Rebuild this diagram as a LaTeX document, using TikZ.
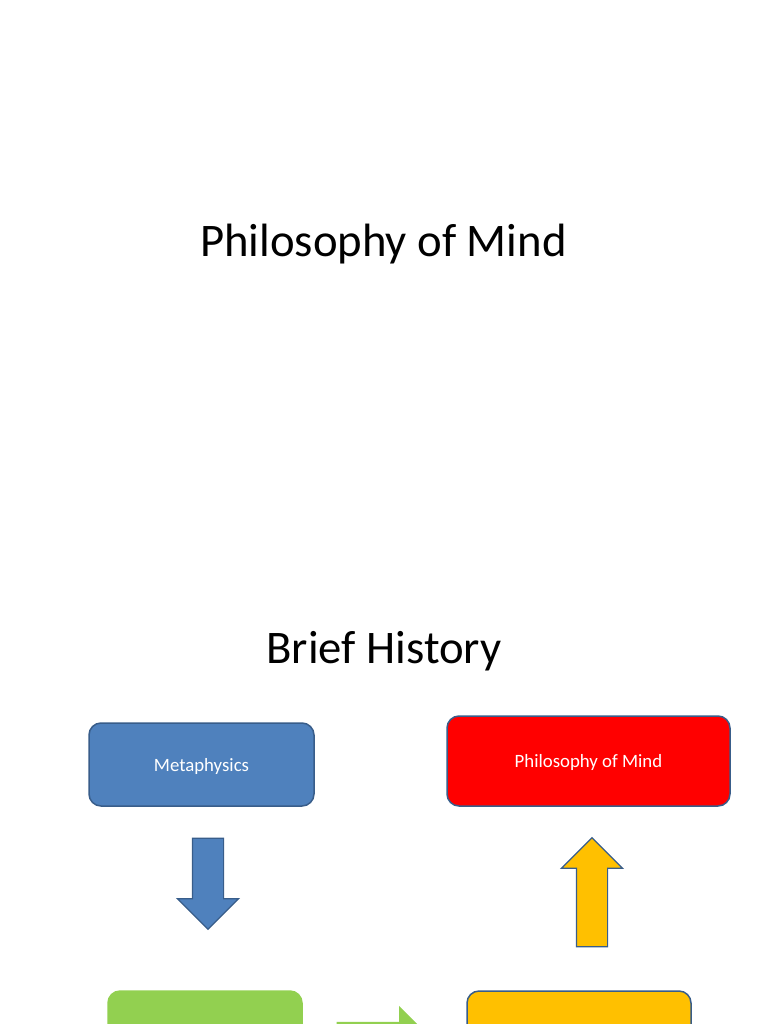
\documentclass[tikz,border=0pt]{standalone}
\usepackage{fontspec}
\setmainfont{Carlito}
\usepackage{tikz}
\usetikzlibrary{shapes.arrows,positioning}
\definecolor{metablue}{HTML}{4F81BD}
\definecolor{edgeblue}{HTML}{385D8A}
\definecolor{mindred}{HTML}{FF0000}
\definecolor{amber}{HTML}{FFC000}
\definecolor{leafgreen}{HTML}{92D050}
\begin{document}
\begin{tikzpicture}[
  x=1pt,y=-1pt,
  heading/.style={font=\fontsize{46.7}{56}\selectfont,text=black,inner sep=0pt},
  blk/.style={draw=edgeblue,line width=1.5pt,rounded corners=12pt,inner sep=0pt,
    font=\fontsize{18.8}{22}\selectfont,text=white,text depth=-1pt},
  arw/.style={single arrow,draw=edgeblue,line width=1.2pt,inner xsep=0pt,inner ysep=15pt,
    single arrow head extend=15pt,minimum width=60pt}]
\useasboundingbox (0,0) rectangle (768,1024);
\clip (0,0) rectangle (768,1024);
\fill[white] (0,0) rectangle (768,1024);
% titles
\node[heading] (title) at (383.5,244) {Philosophy of Mind};
\node[heading] (hist) at (384,651) {Brief History};
% boxes
\node[blk,fill=metablue,minimum width=225pt,minimum height=83pt] (meta) at (201.5,764.5) {Metaphysics};
\node[blk,fill=mindred,minimum width=283pt,minimum height=90pt] (mind) at (588.5,761) {Philosophy of Mind};
\node[blk,draw=leafgreen,fill=leafgreen,minimum width=194pt,minimum height=83pt] (psy) at (205,1032.5) {};
\node[blk,fill=amber,minimum width=224pt,minimum height=83pt] (sci) at (579,1032.5) {};
% block arrows
\node[arw,fill=metablue,minimum height=91pt,rotate=-90] (down) at (208,876) {};
\node[arw,fill=amber,minimum height=109pt,rotate=90] (up) at (592,900) {};
\node[arw,draw=leafgreen,fill=leafgreen,minimum height=93pt] (across) at (376,1038) {};
\end{tikzpicture}
\end{document}
